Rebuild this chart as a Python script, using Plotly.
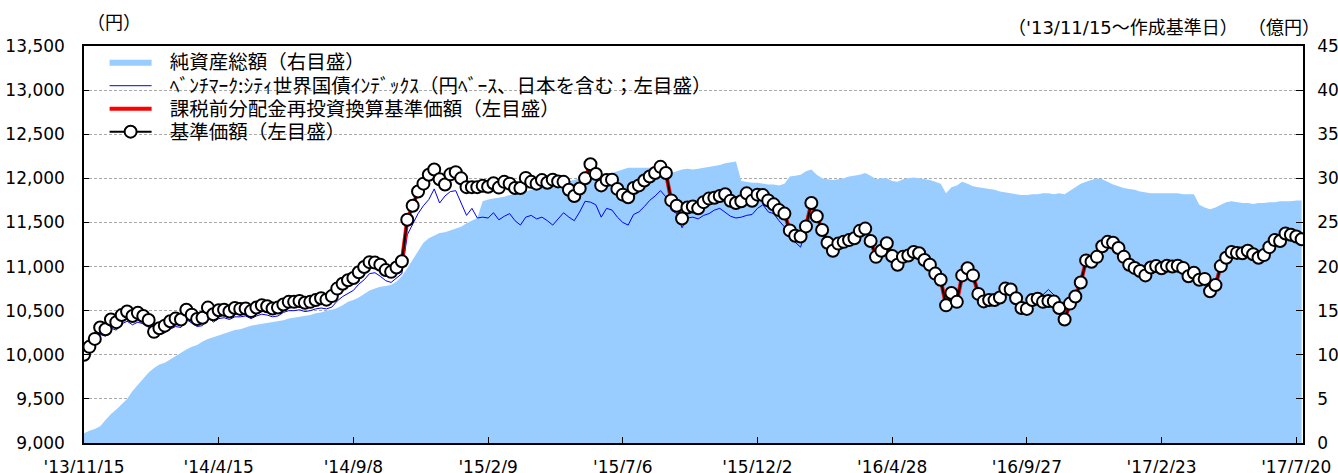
import numpy as np
import plotly.graph_objects as go

# ---- data (sampled every 4 business days from '13/11/15) ----
tick_labels = ["'13/11/15", "'14/4/15", "'14/9/8", "'15/2/9", "'15/7/6",
               "'15/12/2", "'16/4/28", "'16/9/27", "'17/2/23", "'17/7/20"]

# 基準価額 (円)
nav = [
    10000,10090,10180,10310,10290,10400,10370,10450,10490,10440,
    10475,10440,10395,10260,10300,10330,10380,10410,10400,10510,
    10455,10405,10420,10535,10460,10505,10510,10490,10530,10520,
    10525,10495,10535,10560,10550,10525,10535,10570,10600,10600,
    10610,10590,10600,10620,10640,10625,10665,10750,10805,10845,
    10870,10935,10995,11050,11045,11020,10960,10940,10990,11060,
    11530,11690,11850,11940,12040,12100,11990,11930,12045,12070,
    12000,11900,11900,11900,11915,11905,11945,11895,11960,11940,
    11890,11890,12005,11960,11940,11980,11950,11985,11965,11960,
    11870,11800,11885,12000,12160,12050,11920,11980,11985,11880,
    11815,11785,11890,11920,11975,12020,12060,12130,12060,11750,
    11690,11545,11670,11680,11660,11730,11770,11780,11800,11820,
    11745,11720,11740,11830,11745,11815,11810,11750,11705,11640,
    11600,11410,11350,11340,11455,11720,11570,11415,11270,11180,
    11260,11280,11300,11320,11405,11430,11290,11110,11180,11265,
    11120,11020,11110,11125,11165,11150,11075,11020,10920,10850,
    10560,10700,10600,10900,10980,10900,10690,10605,10620,10620,
    10650,10750,10740,10640,10530,10520,10620,10635,10600,10610,
    10605,10530,10400,10580,10660,10820,11070,11055,11110,11230,
    11280,11270,11210,11110,11020,10985,10950,10900,10990,11005,
    10980,11010,11000,11010,10985,10890,10930,10850,10860,10720,
    10790,11005,11100,11165,11155,11150,11180,11140,11100,11130,
    11220,11300,11290,11375,11360,11340,11310,
]

# 課税前分配金再投資換算基準価額 (円) - no distributions, same as NAV
nav_reinvested = [
    10000,10090,10180,10310,10290,10400,10370,10450,10490,10440,
    10475,10440,10395,10260,10300,10330,10380,10410,10400,10510,
    10455,10405,10420,10535,10460,10505,10510,10490,10530,10520,
    10525,10495,10535,10560,10550,10525,10535,10570,10600,10600,
    10610,10590,10600,10620,10640,10625,10665,10750,10805,10845,
    10870,10935,10995,11050,11045,11020,10960,10940,10990,11060,
    11530,11690,11850,11940,12040,12100,11990,11930,12045,12070,
    12000,11900,11900,11900,11915,11905,11945,11895,11960,11940,
    11890,11890,12005,11960,11940,11980,11950,11985,11965,11960,
    11870,11800,11885,12000,12160,12050,11920,11980,11985,11880,
    11815,11785,11890,11920,11975,12020,12060,12130,12060,11750,
    11690,11545,11670,11680,11660,11730,11770,11780,11800,11820,
    11745,11720,11740,11830,11745,11815,11810,11750,11705,11640,
    11600,11410,11350,11340,11455,11720,11570,11415,11270,11180,
    11260,11280,11300,11320,11405,11430,11290,11110,11180,11265,
    11120,11020,11110,11125,11165,11150,11075,11020,10920,10850,
    10560,10700,10600,10900,10980,10900,10690,10605,10620,10620,
    10650,10750,10740,10640,10530,10520,10620,10635,10600,10610,
    10605,10530,10400,10580,10660,10820,11070,11055,11110,11230,
    11280,11270,11210,11110,11020,10985,10950,10900,10990,11005,
    10980,11010,11000,11010,10985,10890,10930,10850,10860,10720,
    10790,11005,11100,11165,11155,11150,11180,11140,11100,11130,
    11220,11300,11290,11375,11360,11340,11310,
]

# ベンチマーク (円)
benchmark = [
    10000,10060,10140,10230,10210,10300,10280,10350,10380,10340,
    10370,10350,10310,10200,10230,10250,10290,10320,10310,10400,
    10360,10320,10330,10430,10370,10410,10420,10400,10430,10430,
    10440,10410,10440,10460,10450,10430,10440,10480,10500,10500,
    10510,10490,10500,10520,10530,10520,10540,10610,10660,10700,
    10730,10800,10850,10920,10930,10890,10840,10820,10870,10920,
    11360,11490,11600,11690,11760,11880,11720,11800,11850,11860,
    11720,11580,11660,11550,11560,11550,11610,11530,11570,11600,
    11520,11470,11560,11580,11540,11560,11520,11470,11540,11610,
    11560,11520,11620,11740,11730,11700,11560,11660,11640,11560,
    11500,11470,11590,11620,11680,11750,11800,11860,11790,11640,
    11600,11440,11550,11560,11540,11580,11600,11640,11660,11620,
    11570,11550,11560,11580,11590,11660,11700,11620,11600,11520,
    11450,11330,11270,11220,11420,11680,11540,11390,11250,11160,
    11240,11260,11280,11310,11390,11410,11270,11100,11170,11250,
    11110,11010,11100,11120,11160,11150,11070,11010,10930,10850,
    10580,10710,10620,10910,10990,10910,10700,10620,10630,10640,
    10670,10760,10750,10660,10560,10550,10640,10700,10680,10740,
    10680,10600,10430,10600,10670,10830,11080,11060,11120,11240,
    11290,11280,11220,11120,11040,11000,10960,10910,11000,11020,
    10990,11020,11010,11020,11000,10900,10940,10860,10880,10730,
    10800,11010,11110,11170,11170,11160,11190,11150,11110,11140,
    11230,11310,11300,11390,11370,11350,11320,
]

# 純資産総額 (億円)
net_assets = [
    1.1,1.4,1.6,1.9,2.6,3.3,3.8,4.4,5.0,5.9,
    6.6,7.4,8.0,8.5,8.9,9.1,9.5,9.9,10.3,10.6,
    10.9,11.1,11.5,11.8,12.0,12.2,12.4,12.6,12.8,12.9,
    13.1,13.3,13.4,13.5,13.6,13.7,13.8,13.9,14.1,14.2,
    14.3,14.4,14.5,14.7,14.8,15.0,15.1,15.3,15.6,16.0,
    16.2,16.5,16.9,17.3,17.5,17.7,17.8,17.9,18.3,18.9,
    19.8,20.8,21.8,22.7,23.2,23.5,23.8,23.9,24.1,24.3,
    24.5,24.9,25.2,25.5,27.4,27.6,27.7,27.8,27.9,28.1,
    28.2,28.3,28.5,28.7,28.9,29.0,29.1,29.2,29.4,29.5,
    29.7,29.8,30.0,30.3,30.4,30.5,30.5,30.6,30.6,30.8,
    31.0,31.2,31.2,31.2,31.2,31.2,31.2,31.3,31.0,30.6,
    30.8,31.0,31.1,31.0,31.1,31.2,31.3,31.4,31.5,31.7,
    31.8,31.9,29.7,29.6,29.5,29.5,29.4,29.3,29.3,29.2,
    29.4,30.2,30.3,30.4,30.8,31.0,30.4,30.0,29.9,29.8,
    29.9,30.0,30.2,30.3,30.4,30.6,30.3,29.9,30.0,30.0,
    29.7,29.6,29.9,30.0,30.1,30.0,29.9,29.8,29.6,29.4,
    28.3,29.0,29.2,29.6,29.4,29.1,29.0,28.9,28.8,28.7,
    28.5,28.4,28.3,28.2,28.1,28.1,28.2,28.2,28.3,28.3,
    28.2,28.3,28.2,28.6,29.0,29.4,29.6,29.8,30.0,29.9,
    29.6,29.3,29.1,28.9,28.8,28.7,28.5,28.4,28.3,28.3,
    28.3,28.3,28.3,28.3,28.2,28.2,28.2,27.0,26.7,26.5,
    26.7,27.0,27.3,27.4,27.3,27.2,27.2,27.1,27.2,27.2,
    27.3,27.3,27.4,27.4,27.4,27.5,27.5,
]

assert len(nav) == len(benchmark) == len(net_assets) == len(nav_reinvested), (
    len(nav), len(benchmark), len(net_assets), len(nav_reinvested))

STEP = 4            # business days between samples
TICK_EVERY = 100    # business days between axis labels
x = np.arange(len(nav)) * STEP
tickvals = np.arange(len(tick_labels)) * TICK_EVERY

FONT = "Noto Sans CJK JP"
NUMFONT = "DejaVu Sans, Noto Sans CJK JP"
SP = "\u00a0\u00a0\u00a0"

fig = go.Figure()
fig.add_trace(go.Scatter(
    x=x, y=net_assets, yaxis="y", mode="lines", fill="tozeroy",
    fillcolor="#99CCFF", line=dict(color="#99CCFF", width=0),
    name=SP + "純資産総額（右目盛）", legend="legend"))
fig.add_trace(go.Scatter(
    x=x, y=benchmark, yaxis="y2", mode="lines",
    line=dict(color="#0000FF", width=1),
    name=SP + "ﾍﾞﾝﾁﾏｰｸ:ｼﾃｨ世界国債ｲﾝﾃﾞｯｸｽ（円ﾍﾞｰｽ、日本を含む；左目盛）",
    legend="legend2"))
fig.add_trace(go.Scatter(
    x=x, y=nav_reinvested, yaxis="y2", mode="lines",
    line=dict(color="#FF0000", width=4),
    name=SP + "課税前分配金再投資換算基準価額（左目盛）", legend="legend3"))
fig.add_trace(go.Scatter(
    x=x, y=nav, yaxis="y2", mode="lines+markers",
    line=dict(color="#000000", width=2),
    marker=dict(size=12, color="#FFFFFF", line=dict(color="#000000", width=2)),
    name=SP + "基準価額（左目盛）", legend="legend4"))

def leg(yc):
    return dict(x=0.0169, y=yc, xanchor="left", yanchor="middle",
                bgcolor="rgba(0,0,0,0)", borderwidth=0, itemwidth=42,
                font=dict(family=FONT, size=19.5, color="black"))

def paper_x(px):
    return (px - 84) / 1219

def paper_y(py):
    return (443 - py) / 397

# white patches that keep the dashed grid from running through legend text
cover = [
    dict(type="rect", xref="paper", yref="paper", layer="between",
         x0=0.0, x1=paper_x(778), y0=paper_y(97), y1=paper_y(80),
         fillcolor="white", line=dict(width=0)),
    dict(type="rect", xref="paper", yref="paper", layer="between",
         x0=paper_x(104), x1=paper_x(372), y0=paper_y(142), y1=paper_y(124),
         fillcolor="white", line=dict(width=0)),
]

fig.update_layout(
    width=1338, height=473,
    margin=dict(l=84, r=35, t=46, b=30, pad=0),
    paper_bgcolor="white", plot_bgcolor="white",
    font=dict(family=FONT, size=17, color="black"),
    showlegend=True,
    legend=leg(0.9597), legend2=leg(0.8992),
    legend3=leg(0.8413), legend4=leg(0.7834),
    shapes=cover,
    xaxis=dict(range=[0, 905], tickvals=tickvals, ticktext=tick_labels,
               ticks="inside", ticklen=6, tickcolor="black",
               showline=True, linecolor="black", linewidth=1.5, mirror=True,
               showgrid=False, zeroline=False, automargin=False,
               ticklabelstandoff=8, tickfont=dict(family=NUMFONT, size=17)),
    yaxis=dict(side="right", range=[0, 45], dtick=5,
               ticks="inside", ticklen=7, tickcolor="black",
               showline=True, linecolor="black", linewidth=1.5,
               showgrid=True, gridcolor="#AAAAAA", gridwidth=1, griddash="3px,2px",
               zeroline=False, automargin=False, ticklabelstandoff=9,
               tickfont=dict(family=NUMFONT, size=17)),
    yaxis2=dict(overlaying="y", side="left", range=[9000, 13500], dtick=500,
                tickformat=",", ticks="inside", ticklen=5, tickcolor="black",
                showline=True, linecolor="black", linewidth=1.5,
                showgrid=False, zeroline=False, automargin=False,
                ticklabelstandoff=14, tickfont=dict(family=NUMFONT, size=17)),
    annotations=[
        dict(text="（円）", xref="paper", yref="paper", x=paper_x(114), y=paper_y(23),
             xanchor="center", yanchor="middle", showarrow=False,
             font=dict(family=NUMFONT, size=18)),
        dict(text="（'13/11/15～作成基準日）", xref="paper", yref="paper",
             x=paper_x(1240), y=paper_y(27), xanchor="right", yanchor="middle",
             showarrow=False, font=dict(family=NUMFONT, size=18)),
        dict(text="（億円）", xref="paper", yref="paper", x=paper_x(1322),
             y=paper_y(27), xanchor="right", yanchor="middle", showarrow=False,
             font=dict(family=NUMFONT, size=18)),
    ],
)

fig.write_html(
    "out.html",
    config={"displayModeBar": False},
    post_script="document.body.style.margin='0';"
                "document.body.style.overflow='hidden';")
